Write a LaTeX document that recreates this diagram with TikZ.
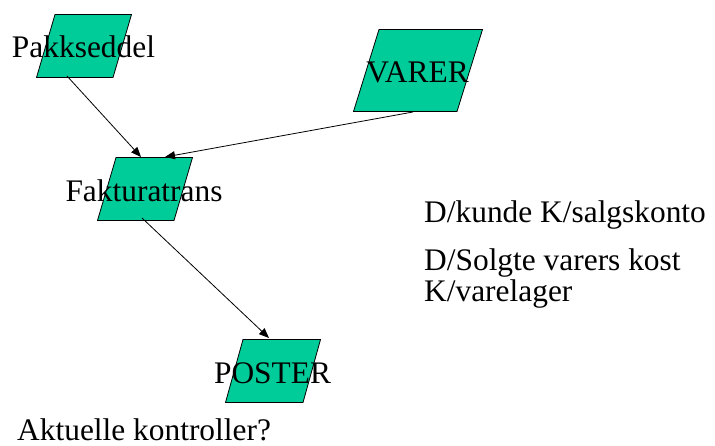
\documentclass[tikz,border=0pt]{standalone}
\usepackage{fontspec}
\setmainfont{Liberation Serif}
\usetikzlibrary{arrows.meta}
\definecolor{paragreen}{RGB}{0,204,153}
\begin{document}
\begin{tikzpicture}[x=1pt,y=-1pt,
  para/.style={inner sep=0pt, outer sep=0pt, path picture={
    \filldraw[fill=paragreen, draw=black, line width=0.8pt]
      ([shift={(0.5pt,0.5pt)}]path picture bounding box.south west)
      -- ([shift={(#1,-0.5pt)}]path picture bounding box.north west)
      -- ([shift={(-0.5pt,-0.5pt)}]path picture bounding box.north east)
      -- ([shift={(-#1,0.5pt)}]path picture bounding box.south east) -- cycle;}},
  txt/.style={font=\fontsize{31.4}{36}\selectfont, inner sep=0pt},
  arr/.style={draw=black, line width=0.8pt, -{Triangle[length=10pt,width=8pt]}}
]
\fill[white] (0,0) rectangle (715,446);
\useasboundingbox (0,0) rectangle (715,446);

\node[para=19pt, minimum width=96pt, minimum height=64pt] (pak) at (84,46) {};
\node[para=26pt, minimum width=130pt, minimum height=83pt] (var) at (418,70.5) {};
\node[para=19pt, minimum width=96pt, minimum height=64pt] (fak) at (145,189) {};
\node[para=18pt, minimum width=96pt, minimum height=64pt] (pos) at (273,371) {};

\node[txt, anchor=base] (pakt) at (83.5,58) {Pakkseddel};
\node[txt, anchor=base] (vart) at (417.5,83) {VARER};
\node[txt, anchor=base] (fakt) at (144,202) {Fakturatrans};
\node[txt, anchor=base] (post) at (272.5,383) {POSTER};

\node[txt, anchor=base west] (t1) at (424,223) {D/kunde K/salgskonto};
\node[txt, anchor=base west] (t2) at (424,271) {D/Solgte varers kost};
\node[txt, anchor=base west] (t3) at (424,302) {K/varelager};
\node[txt, anchor=base west] (t4) at (17,440) {Aktuelle kontroller?};

\draw[arr] ([xshift=-17pt,yshift=2pt]pak.south) -- ([xshift=-4pt]fak.north);
\draw[arr] ([xshift=-5pt]var.south) -- ([xshift=20pt]fak.north);
\draw[arr] ([xshift=-3pt,yshift=3pt]fak.south) -- ([xshift=-4pt,yshift=1pt]pos.north);
\end{tikzpicture}
\end{document}
